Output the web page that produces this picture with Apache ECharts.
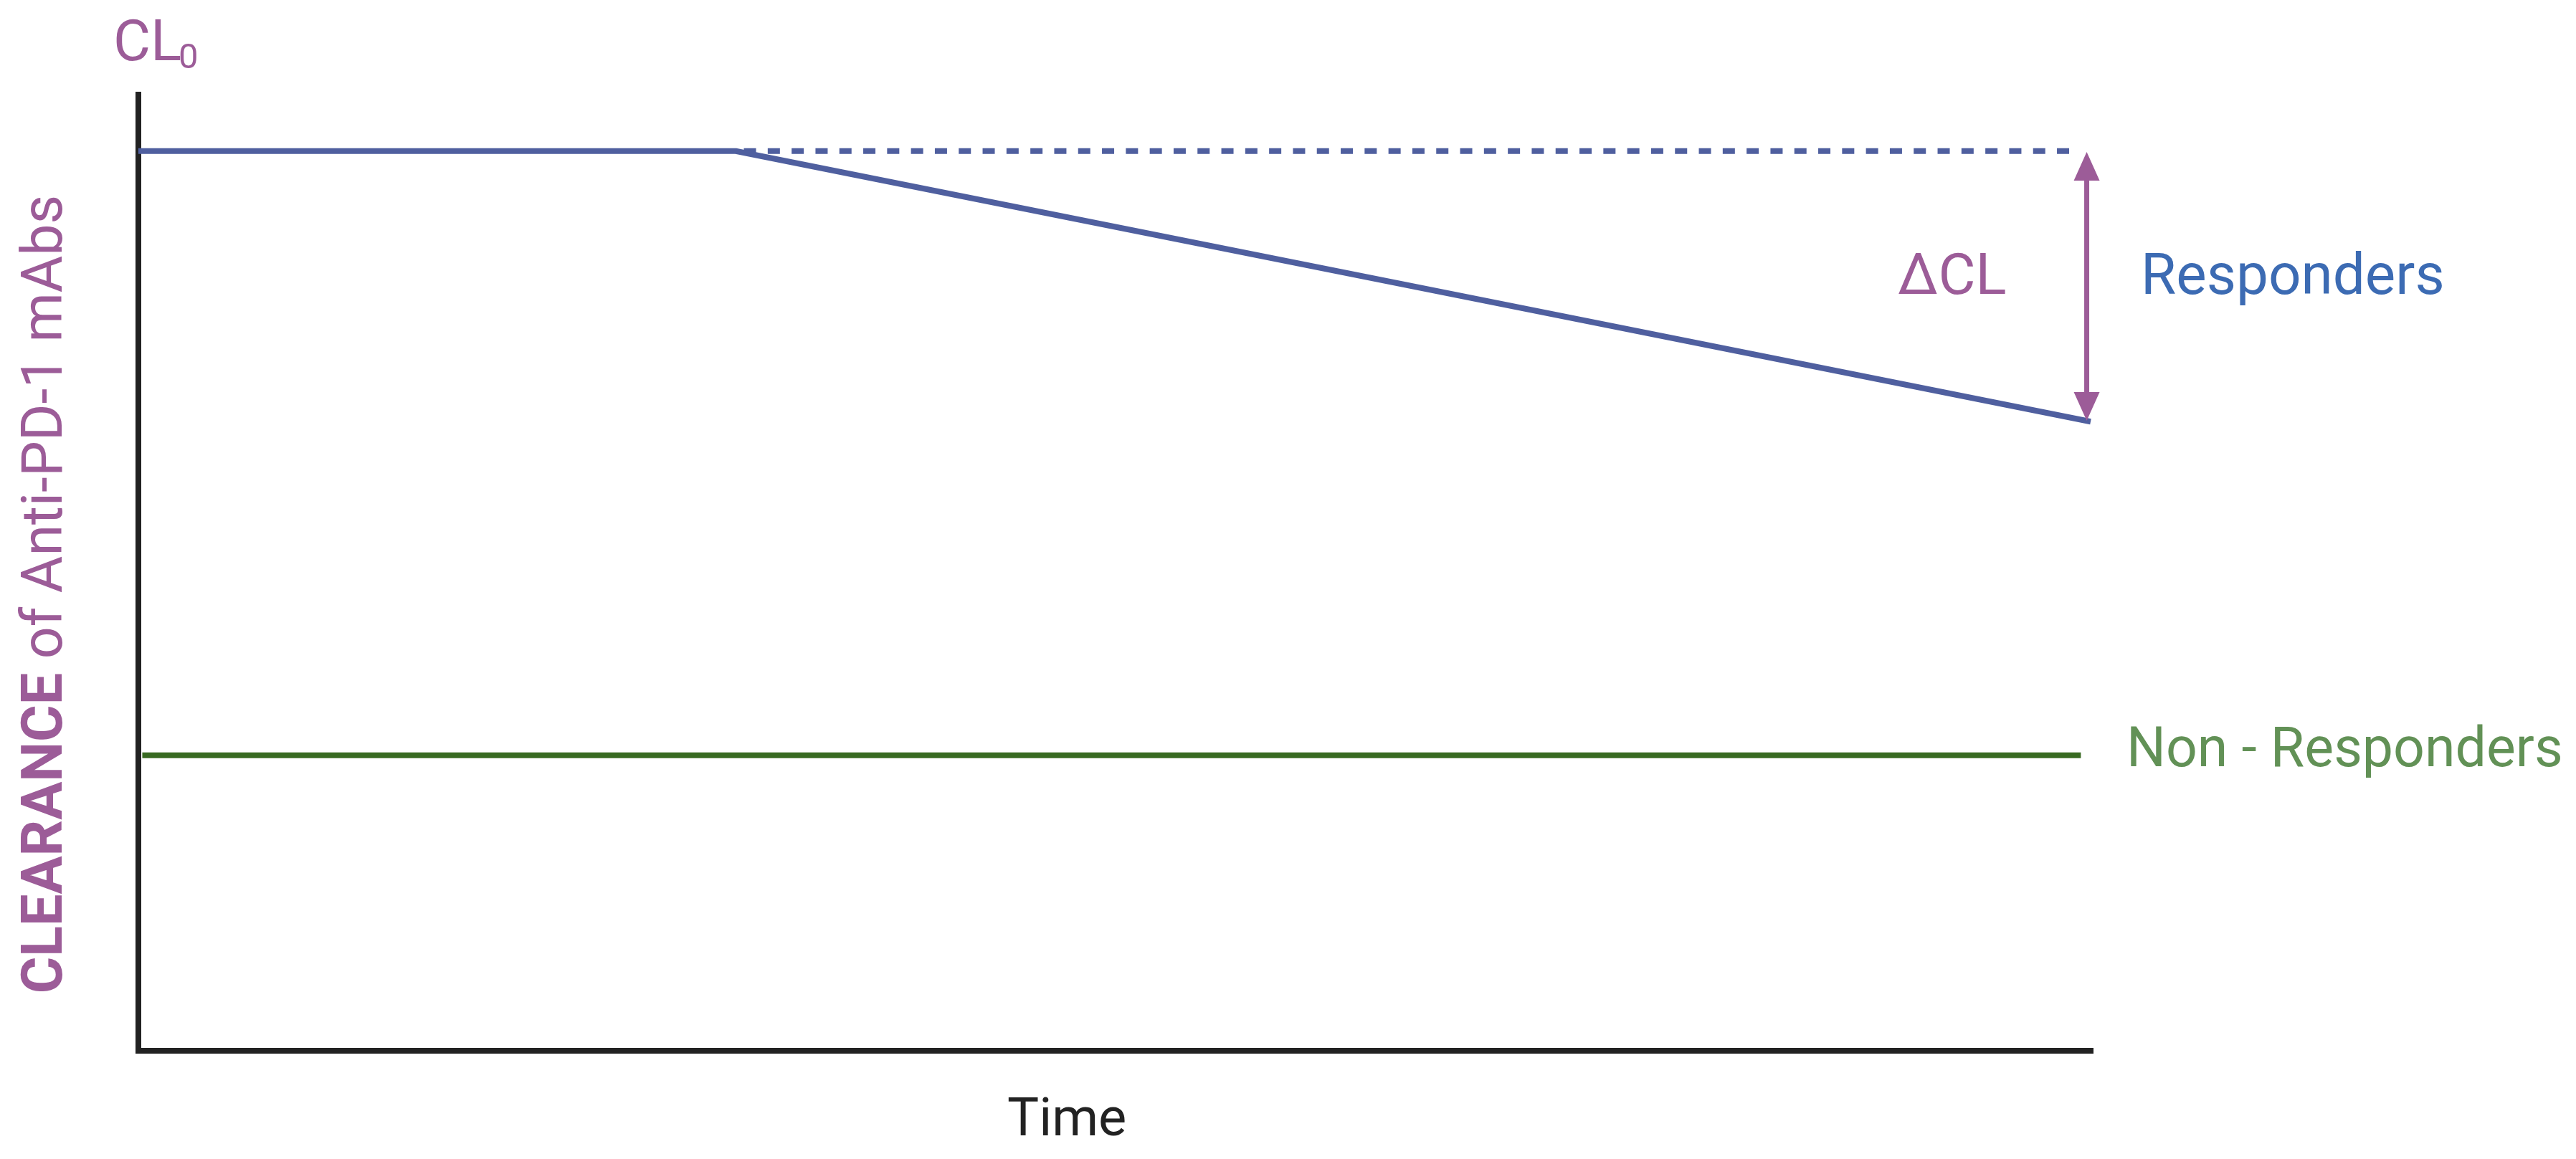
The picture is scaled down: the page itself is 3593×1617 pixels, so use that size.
<!DOCTYPE html>
<html>
<head>
<meta charset="utf-8">
<script src="https://cdn.jsdelivr.net/npm/echarts@6/dist/echarts.min.js"></script>
<style>
html,body{margin:0;padding:0;background:#fff;}
#chart{width:3593px;height:1617px;}
</style>
</head>
<body>
<div id="chart"></div>
<script>
// ---- data (time in % of observation window, clearance in % of axis height) ----
const respondersTime = [0, 30.6, 100];
const respondersClearance = [94.1, 94.1, 65.8];
const baselineTime = [30.6, 99.3];
const baselineClearance = [94.1, 94.1];
const nonRespondersTime = [0.2, 99.5];
const nonRespondersClearance = [30.9, 30.9];
const deltaArrow = [99.8, 94.0, 65.9]; // [time, CL0, CL end]

const labels = {
  cl0: 'CL',
  cl0Sub: '0',
  delta: 'ΔCL',
  responders: 'Responders',
  nonResponders: 'Non - Responders',
  xName: 'Time',
  yBold: 'CLEARANCE',
  yRest: 'of Anti-PD-1 mAbs'
};

const PURPLE = '#9c5c98';
const BLUE_LINE = '#4f5f9f';
const BLUE_TEXT = '#3c6bb3';
const GREEN_LINE = '#386a22';
const GREEN_TEXT = '#629156';
const AXIS = '#222222';
const FONT = 'Roboto';

const zip = (xs, ys) => xs.map((x, i) => [x, ys[i]]);

const chart = echarts.init(document.getElementById('chart'), null, {renderer: 'canvas'});

chart.setOption({
  animation: false,
  backgroundColor: '#ffffff',
  grid: {left: 193, right: 677, top: 132, bottom: 151, containLabel: false, outerBoundsMode: 'none'},
  xAxis: {
    type: 'value', min: 0, max: 100,
    axisLine: {show: true, lineStyle: {color: AXIS, width: 8, cap: 'square'}},
    axisTick: {show: false}, axisLabel: {show: false}, splitLine: {show: false}
  },
  yAxis: {
    type: 'value', min: 0, max: 100,
    axisLine: {show: true, lineStyle: {color: AXIS, width: 8, cap: 'square'}},
    axisTick: {show: false}, axisLabel: {show: false}, splitLine: {show: false}
  },
  series: [
    {
      name: 'Baseline CL0', type: 'line', data: zip(baselineTime, baselineClearance),
      showSymbol: false, symbol: 'none',
      lineStyle: {color: BLUE_LINE, width: 8, type: [17, 16.3], dashOffset: 22, cap: 'butt'},
      z: 3
    },
    {
      name: 'Responders', type: 'line', data: zip(respondersTime, respondersClearance),
      showSymbol: false, symbol: 'none',
      lineStyle: {color: BLUE_LINE, width: 8, cap: 'butt'},
      z: 4
    },
    {
      name: 'Non - Responders', type: 'line', data: zip(nonRespondersTime, nonRespondersClearance),
      showSymbol: false, symbol: 'none',
      lineStyle: {color: GREEN_LINE, width: 8, cap: 'butt'},
      z: 4
    },
    {
      name: 'ΔCL', type: 'custom', data: [deltaArrow],
      encode: {x: 0, y: [1, 2]},
      renderItem: function (params, api) {
        const top = api.coord([api.value(0), api.value(1)]);
        const bot = api.coord([api.value(0), api.value(2)]);
        const hw = 18, hh = 40;
        const x = top[0];
        return {
          type: 'group',
          children: [
            {type: 'line', shape: {x1: x, y1: top[1] + hh - 2, x2: x, y2: bot[1] - hh + 2},
             style: {stroke: PURPLE, lineWidth: 7}},
            {type: 'polygon', shape: {points: [[x, top[1]], [x - hw, top[1] + hh], [x + hw, top[1] + hh]]},
             style: {fill: PURPLE}},
            {type: 'polygon', shape: {points: [[x, bot[1]], [x - hw, bot[1] - hh], [x + hw, bot[1] - hh]]},
             style: {fill: PURPLE}}
          ]
        };
      },
      z: 5
    }
  ],
  graphic: [
    {type: 'text', x: 158, y: 64, style: {text: labels.cl0, fill: PURPLE, font: '80px ' + FONT, textAlign: 'left', textVerticalAlign: 'middle'}},
    {type: 'text', x: 249, y: 83, style: {text: labels.cl0Sub, fill: PURPLE, font: '49px ' + FONT, textAlign: 'left', textVerticalAlign: 'middle'}},
    {type: 'text', x: 2647, y: 390, style: {text: labels.delta, fill: PURPLE, font: '80px ' + FONT, textAlign: 'left', textVerticalAlign: 'middle'}},
    {type: 'text', x: 2986, y: 390, style: {text: labels.responders, fill: BLUE_TEXT, font: '80px ' + FONT, textAlign: 'left', textVerticalAlign: 'middle'}},
    {type: 'text', x: 2966, y: 1050, style: {text: labels.nonResponders, fill: GREEN_TEXT, font: '77px ' + FONT, textAlign: 'left', textVerticalAlign: 'middle'}},
    {type: 'text', x: 1405, y: 1565, style: {text: labels.xName, fill: AXIS, font: '74px ' + FONT, textAlign: 'left', textVerticalAlign: 'middle'}},
    {type: 'text', x: 66, y: 829, rotation: Math.PI / 2,
     style: {
       text: '{b|' + labels.yBold + '} {r|' + labels.yRest + '}',
       textAlign: 'center', textVerticalAlign: 'middle',
       rich: {
         b: {fontFamily: FONT, fontSize: 79, fontWeight: 'bold', fill: PURPLE, color: PURPLE},
         r: {fontFamily: FONT, fontSize: 79, fill: PURPLE, color: PURPLE}
       },
       font: '79px ' + FONT, fill: PURPLE
     }}
  ]
});
</script>
</body>
</html>
